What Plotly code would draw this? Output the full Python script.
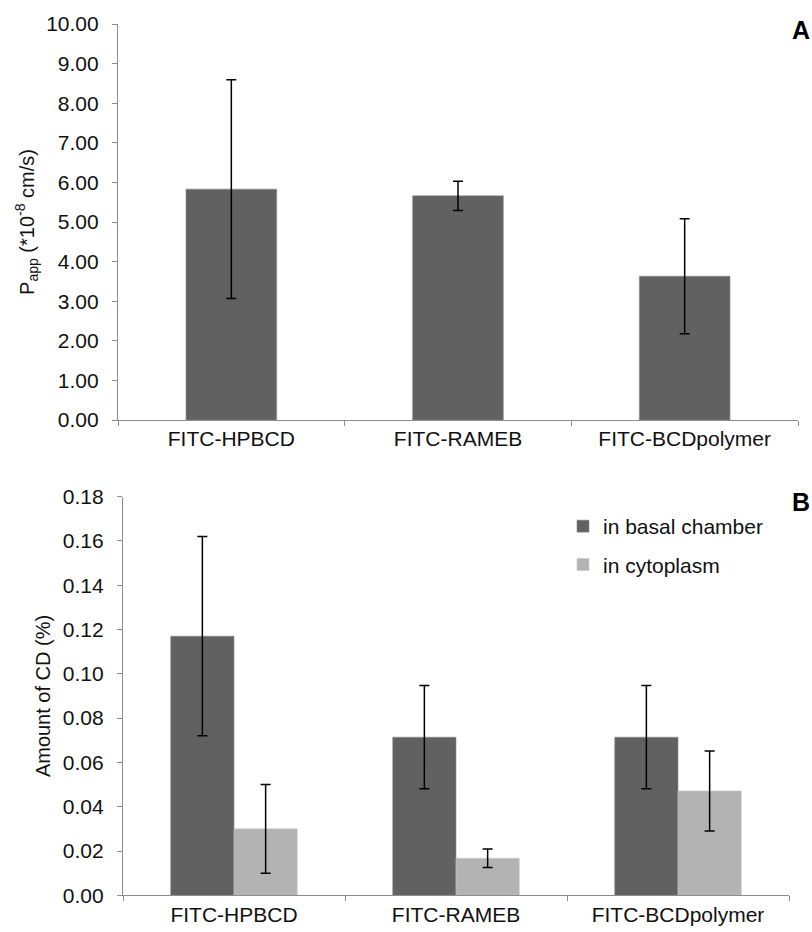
import plotly.graph_objects as go

categories = ["FITC-HPBCD", "FITC-RAMEB", "FITC-BCDpolymer"]

# Panel A: apparent permeability (*10^-8 cm/s)
papp_values = [5.83, 5.66, 3.63]
papp_errors = [2.76, 0.37, 1.45]

# Panel B: amount of CD (%)
basal_values = [0.117, 0.0714, 0.0714]
basal_errors = [0.045, 0.0233, 0.0233]
cyto_values = [0.030, 0.0167, 0.0471]
cyto_errors = [0.020, 0.0042, 0.0181]

W, H = 812, 932
DARK = "#616161"
LIGHT = "#b3b3b3"
AXIS = "#8c8c8c"
FONT = "Liberation Sans, Arial, sans-serif"
TXT = "#111111"

fig = go.Figure()

fig.add_trace(go.Bar(
    x=categories, y=papp_values, width=0.4,
    marker=dict(color=DARK, line=dict(color="#8a8a8a", width=0.6)),
    error_y=dict(type="data", array=papp_errors, color="black", thickness=1.5, width=5),
    showlegend=False, xaxis="x", yaxis="y",
))

fig.add_trace(go.Bar(
    x=categories, y=basal_values, name="in basal chamber",
    marker=dict(color=DARK, line=dict(color="#8a8a8a", width=0.6)),
    error_y=dict(type="data", array=basal_errors, color="black", thickness=1.5, width=5),
    xaxis="x2", yaxis="y2", legendgroup="a",
))
fig.add_trace(go.Bar(
    x=categories, y=cyto_values, name="in cytoplasm",
    marker=dict(color=LIGHT, line=dict(color="#c8c8c8", width=0.6)),
    error_y=dict(type="data", array=cyto_errors, color="black", thickness=1.5, width=5),
    xaxis="x2", yaxis="y2", legendgroup="b",
))

axis_common = dict(showline=True, linecolor=AXIS, linewidth=1.2, ticks="outside",
                   tickcolor=AXIS, ticklen=5, showgrid=False, zeroline=False,
                   automargin=False,
                   tickfont=dict(family=FONT, size=21, color=TXT))

fig.update_layout(
    width=W, height=H,
    margin=dict(l=0, r=0, t=0, b=0),
    paper_bgcolor="white", plot_bgcolor="white",
    barmode="group", bargap=0.43, bargroupgap=0,
    font=dict(family=FONT, size=21, color=TXT),
    xaxis=dict(domain=[118 / W, 798 / W], anchor="y", tickson="boundaries", **axis_common),
    yaxis=dict(domain=[1 - 420 / H, 1 - 24 / H], anchor="x", range=[0, 10], dtick=1,
               tickformat=".2f", ticklabelstandoff=9,
               title=dict(text="P<sub>app</sub> (*10<sup>-8</sup> cm/s)",
                          font=dict(family=FONT, size=20, color=TXT), standoff=6),
               **axis_common),
    xaxis2=dict(domain=[123 / W, 789 / W], anchor="y2", tickson="boundaries", **axis_common),
    yaxis2=dict(domain=[1 - 895.3 / H, 1 - 496.7 / H], anchor="x2", range=[0, 0.18], dtick=0.02,
                tickformat=".2f", ticklabelstandoff=9,
                title=dict(text="Amount of CD (%)", font=dict(family=FONT, size=20, color=TXT),
                           standoff=6),
                **axis_common),
    legend=dict(x=563 / W, y=1 - 506 / H, xanchor="left", yanchor="top",
                font=dict(family=FONT, size=21, color=TXT),
                bgcolor="rgba(0,0,0,0)", tracegroupgap=8, itemwidth=30),
    annotations=[
        dict(text="<b>A</b>", x=1, y=1 - 30 / H, xref="paper", yref="paper",
             xanchor="right", yanchor="middle", showarrow=False,
             font=dict(family=FONT, size=25, color="black")),
        dict(text="<b>B</b>", x=1, y=1 - 502 / H, xref="paper", yref="paper",
             xanchor="right", yanchor="middle", showarrow=False,
             font=dict(family=FONT, size=25, color="black")),
    ],
)

fig.write_html("out.html")
